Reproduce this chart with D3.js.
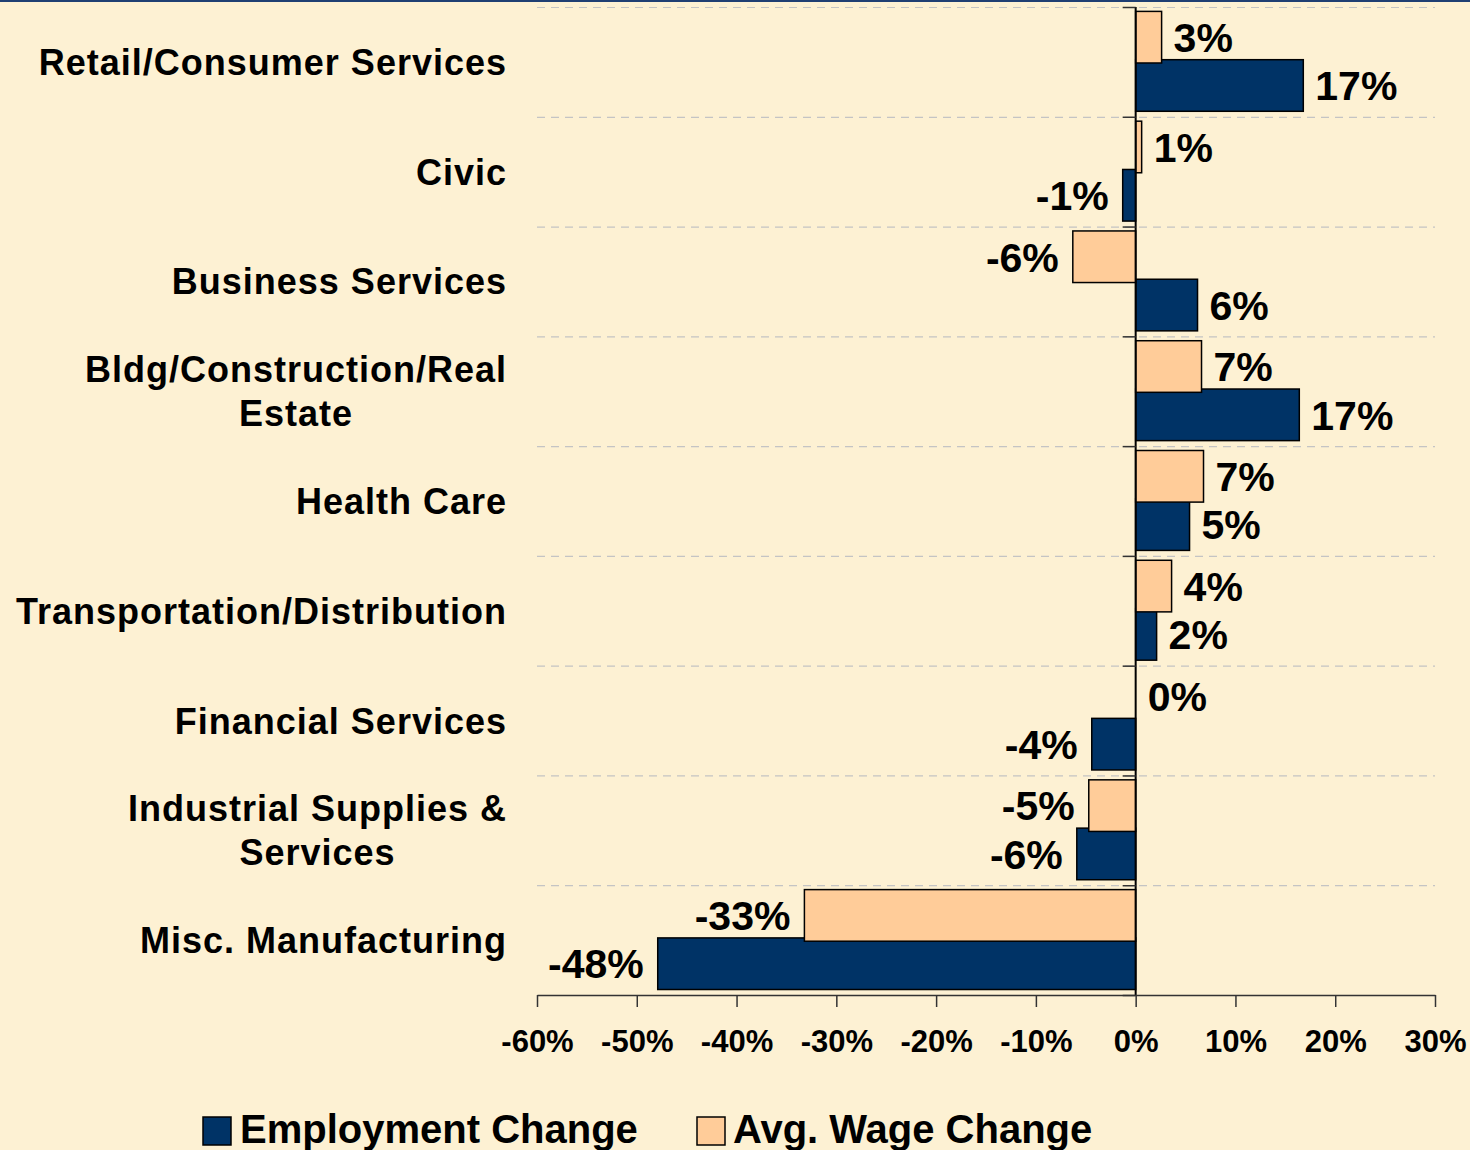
<!DOCTYPE html>
<html>
<head>
<meta charset="utf-8">
<script src="https://cdn.jsdelivr.net/npm/d3@7"></script>
<style>
  html, body { margin: 0; padding: 0; background: #FDF1D3; }
  svg { display: block; }
  text { font-family: "Liberation Sans", Arial, sans-serif; font-weight: bold; fill: #000; }
</style>
</head>
<body>
<svg id="chart" width="1470" height="1150"></svg>
<script>
// ---------- DATA ----------
const categories = [
  ["Retail/Consumer Services"],
  ["Civic"],
  ["Business Services"],
  ["Bldg/Construction/Real", "Estate"],
  ["Health Care"],
  ["Transportation/Distribution"],
  ["Financial Services"],
  ["Industrial Supplies &", "Services"],
  ["Misc. Manufacturing"]
];
const employmentChange = [16.8, -1.3, 6.2, 16.4, 5.4, 2.1, -4.4, -5.9, -47.9];
const wageChange       = [2.6, 0.6, -6.3, 6.6, 6.8, 3.6, 0, -4.7, -33.2];
const employmentLabels = ["17%", "-1%", "6%", "17%", "5%", "2%", "-4%", "-6%", "-48%"];
const wageLabels       = ["3%", "1%", "-6%", "7%", "7%", "4%", "0%", "-5%", "-33%"];
const tickValues = [-60, -50, -40, -30, -20, -10, 0, 10, 20, 30];
const tickLabels = ["-60%", "-50%", "-40%", "-30%", "-20%", "-10%", "0%", "10%", "20%", "30%"];
const seriesNames = ["Employment Change", "Avg. Wage Change"];
const seriesColors = ["#003366", "#FFCC99"];

// ---------- LAYOUT ----------
const svg = d3.select("#chart");
const W = 1470, H = 1150;
const plot = { left: 537, right: 1435, top: 7, bottom: 995 };

svg.append("rect").attr("width", W).attr("height", H).attr("fill", "#FDF1D3");
svg.append("rect").attr("x", 0).attr("y", 0).attr("width", W).attr("height", 2).attr("fill", "#1F3F73");

const x = d3.scaleLinear().domain([-60, 30]).range([plot.left, plot.right]);
const y = d3.scaleBand().domain(d3.range(categories.length)).range([plot.top, plot.bottom]).paddingInner(0).paddingOuter(0);
const bw = y.bandwidth();

// dashed category gridlines
const gridYs = d3.range(categories.length).map(i => y(i));
svg.append("g").selectAll("line").data(gridYs).join("line")
  .attr("x1", plot.left).attr("x2", plot.right)
  .attr("y1", d => d + 0.5).attr("y2", d => d + 0.5)
  .attr("stroke", "#C4C4C4").attr("stroke-width", 1.2)
  .attr("stroke-dasharray", "8,6");

// bars: employment then wage on top
const empY = i => y(i) + bw * 0.48;
const wageY = i => y(i) + bw * 0.04;
const barH = bw * 0.47;

svg.append("g").selectAll("rect").data(employmentChange).join("rect")
  .attr("x", d => x(Math.min(0, d)))
  .attr("y", (d, i) => empY(i))
  .attr("width", d => Math.abs(x(d) - x(0)))
  .attr("height", barH)
  .attr("fill", seriesColors[0])
  .attr("stroke", "#000").attr("stroke-width", 1.5);

svg.append("g").selectAll("rect").data(wageChange).join("rect")
  .attr("x", d => x(Math.min(0, d)))
  .attr("y", (d, i) => wageY(i))
  .attr("width", d => Math.abs(x(d) - x(0)))
  .attr("height", barH)
  .attr("fill", seriesColors[1])
  .attr("stroke", d => d === 0 ? "none" : "#000").attr("stroke-width", 1.5);

// y axis (zero line) with ticks at category boundaries
const yAxisG = svg.append("g");
yAxisG.append("line")
  .attr("x1", x(0)).attr("x2", x(0))
  .attr("y1", plot.top).attr("y2", plot.bottom)
  .attr("stroke", "#000").attr("stroke-width", 2);
yAxisG.selectAll("line.t").data(gridYs.concat([plot.bottom])).join("line").attr("class", "t")
  .attr("x1", x(0) - 13).attr("x2", x(0))
  .attr("y1", d => d + 0.5).attr("y2", d => d + 0.5)
  .attr("stroke", "#333").attr("stroke-width", 1.5);

// x axis
const xAxis = d3.axisBottom(x).tickValues(tickValues)
  .tickFormat((d, i) => tickLabels[i]).tickSizeInner(12).tickSizeOuter(0).tickPadding(23);
const xg = svg.append("g").attr("transform", `translate(0,${plot.bottom})`).call(xAxis);
xg.select(".domain").attr("stroke", "#333").attr("stroke-width", 1.5);
xg.selectAll(".tick line").attr("stroke", "#333").attr("stroke-width", 1.5);
xg.selectAll(".tick text")
  .attr("font-size", 31).attr("font-family", "Liberation Sans, Arial, sans-serif")
  .attr("font-weight", "bold").attr("fill", "#000").attr("dy", "0.71em");

// data labels
function drawLabels(values, labels, yFn) {
  svg.append("g").selectAll("text").data(values).join("text")
    .attr("x", d => d >= 0 ? x(d) + 12 : x(d) - 14)
    .attr("y", (d, i) => yFn(i) + barH / 2)
    .attr("dy", "0.36em")
    .attr("text-anchor", d => d >= 0 ? "start" : "end")
    .attr("font-size", 41)
    .text((d, i) => labels[i]);
}
drawLabels(employmentChange, employmentLabels, empY);
drawLabels(wageChange, wageLabels, wageY);

// category labels
const labelRight = 507;
const catG = svg.append("g");
categories.forEach((lines, i) => {
  const g = catG.append("g");
  const cy = y(i) + bw / 2;
  const lh = 44;
  const texts = lines.map((ln, k) => g.append("text")
    .attr("font-size", 36).attr("letter-spacing", 1)
    .attr("y", cy + 13 + (k - (lines.length - 1) / 2) * lh)
    .text(ln));
  const maxW = d3.max(texts, t => t.node().getComputedTextLength());
  texts.forEach(t => t.attr("x", labelRight - maxW / 2).attr("text-anchor", "middle"));
});

// legend
const legend = svg.append("g");
const legendItems = [{ x: 203, tx: 240 }, { x: 697, tx: 733 }];
legendItems.forEach((it, i) => {
  legend.append("rect").attr("x", it.x).attr("y", 1117).attr("width", 28).attr("height", 28)
    .attr("fill", seriesColors[i]).attr("stroke", "#000").attr("stroke-width", 1.5);
  legend.append("text").attr("x", it.tx).attr("y", 1143).attr("font-size", 40).text(seriesNames[i]);
});
</script>
</body>
</html>
